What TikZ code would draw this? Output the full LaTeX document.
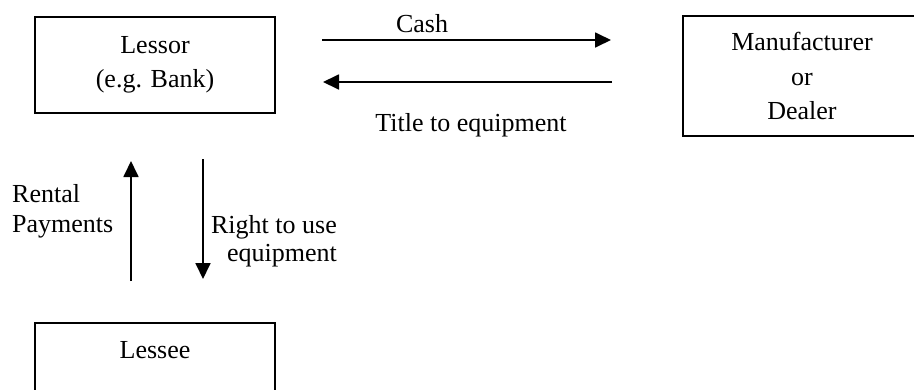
\documentclass[tikz,border=0pt]{standalone}
\usepackage{fontspec}
\setmainfont{Liberation Serif}
\usetikzlibrary{arrows.meta}
\tikzset{
  box/.style={draw, line width=1.8pt, minimum width=240pt, align=center, inner sep=0pt, font=\fontsize{26}{34.5}\selectfont},
  flow/.style={line width=1.8pt, -{Triangle[length=16pt,width=15pt]}},
  lbl/.style={inner sep=0pt, font=\fontsize{26}{30}\selectfont}
}
\begin{document}
\begin{tikzpicture}[x=1pt,y=-1pt]
\useasboundingbox (0,0) rectangle (914,389);
\clip (0,0) rectangle (914,389);
\node[box, minimum height=96pt] (lessor) at (155,65) {Lessor\\(e.g. Bank)};
\node[box, minimum width=238pt, minimum height=120pt] (manu) at (802,76) {Manufacturer\\or\\Dealer};
\node[box, minimum height=96pt] (lessee) at (155,371) {\raisebox{-3pt}{Lessee}\\\strut};
\coordinate (cashA) at (322,40);
\coordinate (cashB) at (611,40);
\coordinate (titleA) at (612,82);
\coordinate (titleB) at (323,82);
\coordinate (rentA) at (131,281);
\coordinate (rentB) at (131,161);
\coordinate (rightA) at (203,159);
\coordinate (rightB) at (203,279);
\draw[flow] (cashA) -- (cashB);
\draw[flow] (titleA) -- (titleB);
\draw[flow] (rentA) -- (rentB);
\draw[flow] (rightA) -- (rightB);
\node[lbl, anchor=base] (cash) at (422,32) {Cash};
\node[lbl, anchor=base] (title) at (471,131) {Title to equipment};
\node[lbl, anchor=base west, align=left] (rent) at (12,232) {Rental\\Payments};
\node[lbl, anchor=base east, align=right, font=\fontsize{26}{28}\selectfont] (right) at (337,261) {Right to use\\equipment};
\end{tikzpicture}
\end{document}
